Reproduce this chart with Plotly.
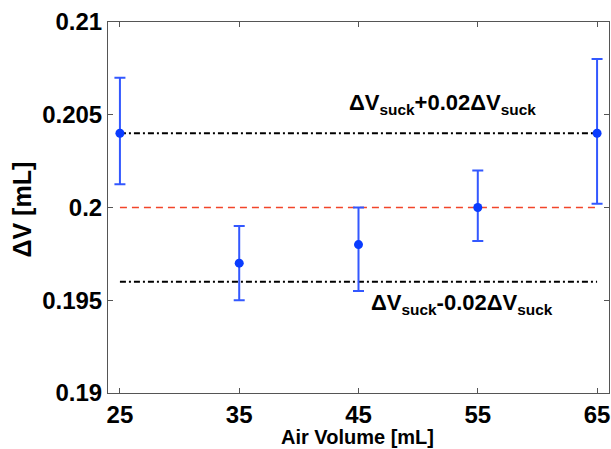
import plotly.graph_objects as go

# Measured volume change versus air volume, with error-bar limits
air_volume = [25, 35, 45, 55, 65]
delta_v = [0.204, 0.197, 0.198, 0.200, 0.204]
delta_v_upper = [0.207, 0.199, 0.200, 0.202, 0.208]
delta_v_lower = [0.20125, 0.195, 0.1955, 0.1982, 0.2002]

# Nominal suck volume and the +/-2% tolerance band
nominal_dv = 0.200
band_upper = 0.204
band_lower = 0.196

x_ticks = [25, 35, 45, 55, 65]
y_ticks = [0.19, 0.195, 0.2, 0.205, 0.21]
y_tick_text = ["0.19", "0.195", "0.2", "0.205", "0.21"]

FONT = "Liberation Sans, Arial, Helvetica, sans-serif"
AXIS_GREY = "#555555"

err_plus = [u - v for u, v in zip(delta_v_upper, delta_v)]
err_minus = [v - l for v, l in zip(delta_v, delta_v_lower)]

fig = go.Figure()

x_span = [air_volume[0], air_volume[-1]]

# tolerance band lines (dash-dot)
for level in (band_upper, band_lower):
    fig.add_trace(go.Scatter(
        x=x_span, y=[level, level], mode="lines",
        line=dict(color="black", width=2, dash="6px,3px,2px,3px"),
        hoverinfo="skip", showlegend=False,
    ))

# nominal line (dashed red)
fig.add_trace(go.Scatter(
    x=x_span, y=[nominal_dv, nominal_dv], mode="lines",
    line=dict(color="#f2452a", width=1.5, dash="7px,5px"),
    hoverinfo="skip", showlegend=False,
))

# measurements with error bars
fig.add_trace(go.Scatter(
    x=air_volume, y=delta_v, mode="markers",
    marker=dict(color="#0a3cff", size=9),
    error_y=dict(type="data", symmetric=False, array=err_plus,
                 arrayminus=err_minus, color="#3358ff",
                 thickness=2, width=5.5),
    showlegend=False,
))

label_font = dict(family=FONT, size=22, color="black")
fig.add_annotation(
    x=44.0, y=0.2056, xref="x", yref="y", xanchor="left", yanchor="middle",
    text="<b>ΔV<sub>suck</sub>+0.02ΔV<sub>suck</sub></b>",
    showarrow=False, font=label_font,
)
fig.add_annotation(
    x=45.9, y=0.1948, xref="x", yref="y", xanchor="left", yanchor="middle",
    text="<b>ΔV<sub>suck</sub>-0.02ΔV<sub>suck</sub></b>",
    showarrow=False, font=label_font,
)

# axis titles
fig.add_annotation(
    x=0, y=0.5, xref="paper", yref="paper", xanchor="center",
    yanchor="middle", xshift=-87, yshift=-2, textangle=-90,
    text="<b>ΔV [mL]</b>", showarrow=False,
    font=dict(family=FONT, size=25, color="black"),
)
fig.add_annotation(
    x=45, y=0, xref="x", yref="paper", xanchor="center",
    yanchor="middle", xshift=-1, yshift=-44,
    text="<b>Air Volume [mL]</b>", showarrow=False,
    font=dict(family=FONT, size=20, color="black"),
)

axis_common = dict(
    showline=True, linecolor=AXIS_GREY, linewidth=1, mirror="ticks",
    ticks="inside", ticklen=5, tickcolor=AXIS_GREY, tickwidth=1,
    showgrid=False, zeroline=False,
    tickfont=dict(family=FONT, size=24, color="black"),
)

fig.update_xaxes(
    range=[24, 66], tickvals=x_ticks,
    ticktext=[f"<b>{t}</b>" for t in x_ticks],
    **axis_common,
)
fig.update_yaxes(
    range=[0.19, 0.21], tickvals=y_ticks,
    ticktext=[f"<b>{t}</b>" for t in y_tick_text],
    **axis_common,
)

fig.update_layout(
    width=611, height=449,
    margin=dict(l=108, r=2, t=22, b=56),
    paper_bgcolor="white", plot_bgcolor="white",
    showlegend=False,
)

fig.write_html("out.html")
